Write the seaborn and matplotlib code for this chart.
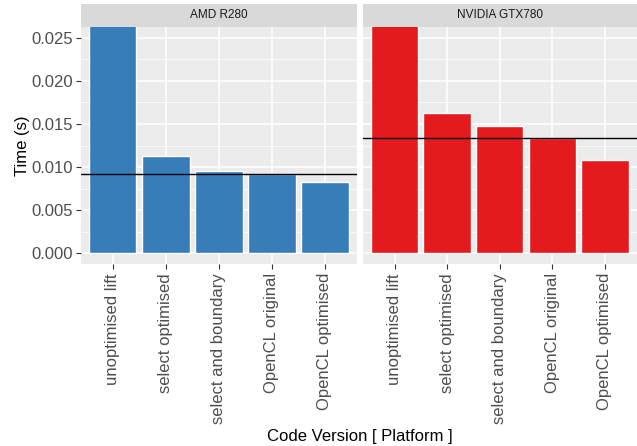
import matplotlib
matplotlib.use("Agg")
import matplotlib.pyplot as plt
import seaborn as sns
import pandas as pd
import numpy as np

versions = ["unoptimised lift", "select optimised", "select and boundary",
            "OpenCL original", "OpenCL optimised"]
platforms = ["AMD R280", "NVIDIA GTX780"]
amd_times = [0.0300, 0.01133, 0.00959, 0.00924, 0.00821]
nvidia_times = [0.0310, 0.01629, 0.01479, 0.01341, 0.01086]
ref_lines = [0.00924, 0.01341]
colors = ["#377EB8", "#E41A1C"]
y_ticks = [0.000, 0.005, 0.010, 0.015, 0.020, 0.025]
y_ticklabels = ["0.000", "0.005", "0.010", "0.015", "0.020", "0.025"]

df = pd.DataFrame({
    "version": versions * 2,
    "platform": [platforms[0]] * 5 + [platforms[1]] * 5,
    "time": amd_times + nvidia_times,
})

sns.set_theme(style="darkgrid")
plt.rcParams["font.family"] = ["Liberation Sans", "DejaVu Sans"]

W, H = 637, 446
fig = plt.figure(figsize=(W / 100, H / 100), dpi=100)

panel_x = [(80.7, 356.7), (363.0, 636.5)]
py0, py1 = 27.0, 264.0
sy0 = 4.0

def fx(x):
    return x / W

def fy(y):
    return 1 - y / H

ymin, ymax = -0.00125, 0.02625

for i, (plat, col) in enumerate(zip(platforms, colors)):
    x0, x1 = panel_x[i]
    ax = fig.add_axes([fx(x0), fy(py1), fx(x1 - x0), (py1 - py0) / H])
    sub = df[df["platform"] == plat]
    sns.barplot(data=sub, x="version", y="time", order=versions, color=col,
                saturation=1, width=0.9, ax=ax, errorbar=None, zorder=3)
    ax.set_facecolor("#EBEBEB")
    for s in ax.spines.values():
        s.set_visible(False)
    ax.set_xlim(-0.6, 4.6)
    ax.set_ylim(ymin, ymax)
    ax.set_yticks(y_ticks)
    ax.set_yticks(np.arange(0.0025, 0.026, 0.005), minor=True)
    ax.grid(False)
    ax.grid(True, which="major", axis="both", color="white", linewidth=1.1, zorder=0)
    ax.grid(True, which="minor", axis="y", color="white", linewidth=0.55, zorder=0)
    ax.set_axisbelow(True)
    ax.axhline(ref_lines[i], color="black", linewidth=1.0, zorder=4)
    ax.tick_params(axis="both", which="major", length=3.5, width=0.8,
                   color="#333333", labelcolor="#4D4D4D", labelsize=12, pad=2,
                   bottom=True, left=True)
    ax.tick_params(axis="x", which="major", pad=3)
    ax.tick_params(axis="y", which="minor", length=0)
    ax.set_xticks(range(len(versions)))
    ax.set_xticklabels(versions, rotation=90, ha="center", va="top")
    if i == 0:
        ax.set_yticklabels(y_ticklabels)
    else:
        ax.tick_params(axis="y", which="major", length=0, labelleft=False)
    ax.set_xlabel("")
    ax.set_ylabel("")
    # strip
    sax = fig.add_axes([fx(x0), fy(py0), fx(x1 - x0), (py0 - sy0) / H])
    sax.set_facecolor("#D9D9D9")
    sax.grid(False)
    sax.set_xticks([])
    sax.set_yticks([])
    for s in sax.spines.values():
        s.set_visible(False)
    sax.text(0.5, 0.5, plat, ha="center", va="center", fontsize=8.5,
             color="#1A1A1A", transform=sax.transAxes)

fig.text(fx(22), fy((py0 + py1) / 2), "Time (s)", rotation=90, ha="center",
         va="center", fontsize=12, color="black")
fig.text(fx(359.5), fy(436), "Code Version [ Platform ]",
         ha="center", va="center", fontsize=12, color="black")

fig.savefig("out.png", dpi=100, facecolor="white")
